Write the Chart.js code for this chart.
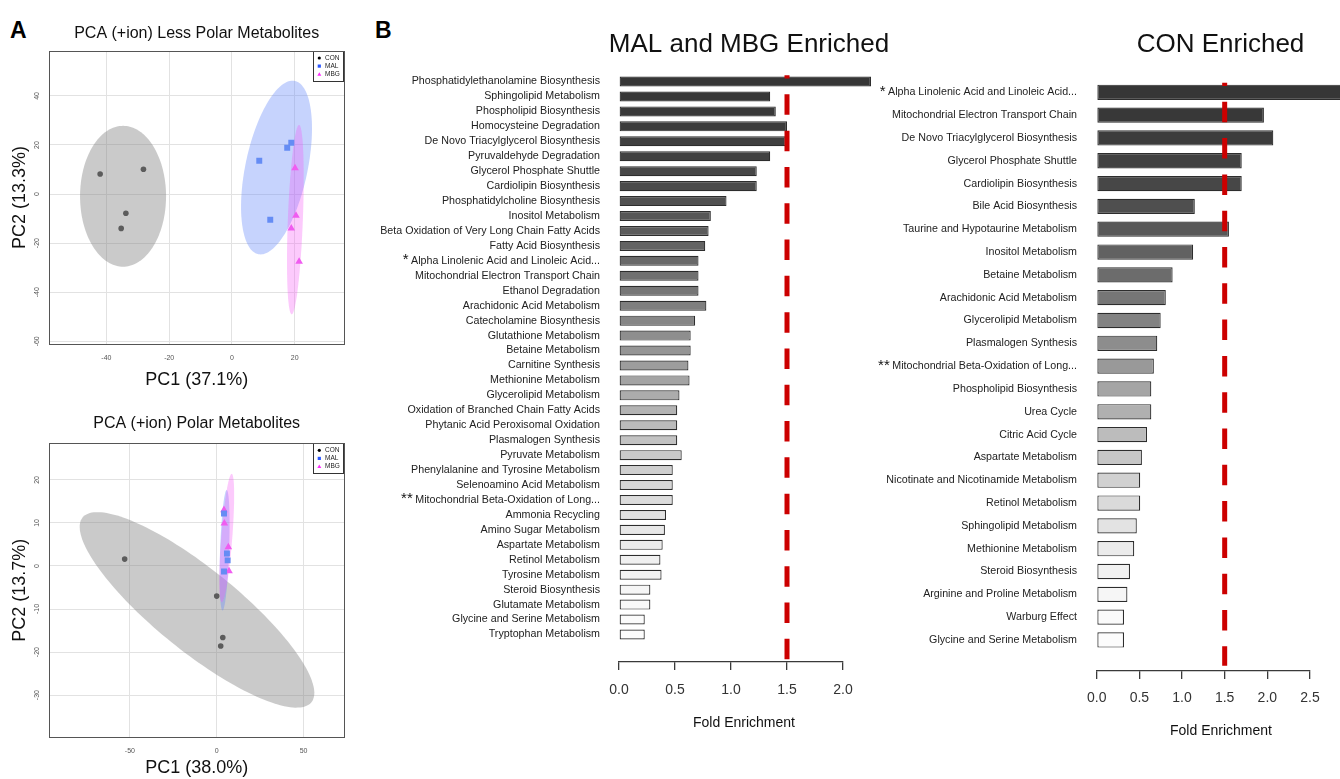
<!DOCTYPE html>
<html>
<head>
<meta charset="utf-8">
<title>PCA and pathway enrichment</title>
<script src="https://cdn.jsdelivr.net/npm/chart.js@4.4.1/dist/chart.umd.min.js"></script>
<style>
  html, body { margin: 0; padding: 0; background: #fff; }
  body { position: relative; width: 1340px; height: 779px; overflow: hidden; font-family: "Liberation Sans", Arial, sans-serif; }
  canvas { position: absolute; }
  .tag { position: absolute; font-size: 23px; line-height: 23px; font-weight: bold; color: #000; }
</style>
</head>
<body>
<div class="tag" style="left:10px; top:19px;">A</div>
<div class="tag" style="left:375px; top:19px;">B</div>
<canvas id="pcaLess" width="360" height="372" style="left:0; top:20px;"></canvas>
<canvas id="pcaPolar" width="360" height="379" style="left:0; top:400px;"></canvas>
<canvas id="malChart" width="530" height="779" style="left:380px; top:0;"></canvas>
<canvas id="conChart" width="470" height="779" style="left:870px; top:0;"></canvas>
<script>
const FONT = '"Liberation Sans", Arial, Helvetica, sans-serif';
Chart.defaults.font.family = FONT;
Chart.defaults.color = '#222';
const LABEL_SIZE = 10.7;

// ---- PCA (+ion) Less Polar Metabolites ----
const lessConPC1 = [-42.0, -28.2, -33.8, -35.3];
const lessConPC2 = [8.2, 10.1, -7.8, -14.0];
const lessMalPC1 = [8.7, 17.6, 18.9, 12.2];
const lessMalPC2 = [13.6, 18.9, 20.9, -10.5];
const lessMbgPC1 = [20.1, 20.4, 18.9, 21.4];
const lessMbgPC2 = [10.6, -8.8, -14.0, -27.5];
// ellipse = centre (PC1, PC2), then two conjugate semi-axes (PC1, PC2)
const lessConEllipse = [-34.7, -0.9, 0, 28.7, 13.7, 0];
const lessMalEllipse = [14.2, 10.8, 5.83, 35.3, 9.68, -2.63];
const lessMbgEllipse = [20.2, -10.4, 1.18, 38.6, 2.39, -0.12];
const lessRangePC1 = [-58.2, 35.7];
const lessRangePC2 = [-61.1, 58.3];
const lessTicksPC1 = [-40, -20, 0, 20];
const lessTicksPC2 = [-60, -40, -20, 0, 20, 40];

// ---- PCA (+ion) Polar Metabolites ----
const polarConPC1 = [-53.0, 0.0, 3.5, 2.3];
const polarConPC2 = [1.6, -7.0, -16.6, -18.6];
const polarMalPC1 = [4.2, 5.9, 6.3, 4.2];
const polarMalPC2 = [12.2, 2.9, 1.3, -1.3];
const polarMbgPC1 = [4.2, 4.4, 6.7, 7.1];
const polarMbgPC2 = [13.0, 9.9, 4.4, -1.2];
const polarConEllipse = [-11.35, -10.2, 65.9, -21.45, -14.86, -7.46];
const polarMalEllipse = [4.55, 3.66, 1.21, 14.0, 2.6, -0.04];
const polarMbgEllipse = [5.76, 6.5, 2.88, 14.9, 3.17, -0.1];
const polarRangePC1 = [-96.4, 73.3];
const polarRangePC2 = [-39.8, 28.5];
const polarTicksPC1 = [-50, 0, 50];
const polarTicksPC2 = [-30, -20, -10, 0, 10, 20];

// ---- Pathway enrichment ----
const cutoff = 1.5;

const malNames = [
  'Phosphatidylethanolamine Biosynthesis',
  'Sphingolipid Metabolism',
  'Phospholipid Biosynthesis',
  'Homocysteine Degradation',
  'De Novo Triacylglycerol Biosynthesis',
  'Pyruvaldehyde Degradation',
  'Glycerol Phosphate Shuttle',
  'Cardiolipin Biosynthesis',
  'Phosphatidylcholine Biosynthesis',
  'Inositol Metabolism',
  'Beta Oxidation of Very Long Chain Fatty Acids',
  'Fatty Acid Biosynthesis',
  '*Alpha Linolenic Acid and Linoleic Acid...',
  'Mitochondrial Electron Transport Chain',
  'Ethanol Degradation',
  'Arachidonic Acid Metabolism',
  'Catecholamine Biosynthesis',
  'Glutathione Metabolism',
  'Betaine Metabolism',
  'Carnitine Synthesis',
  'Methionine Metabolism',
  'Glycerolipid Metabolism',
  'Oxidation of Branched Chain Fatty Acids',
  'Phytanic Acid Peroxisomal Oxidation',
  'Plasmalogen Synthesis',
  'Pyruvate Metabolism',
  'Phenylalanine and Tyrosine Metabolism',
  'Selenoamino Acid Metabolism',
  '** Mitochondrial Beta-Oxidation of Long...',
  'Ammonia Recycling',
  'Amino Sugar Metabolism',
  'Aspartate Metabolism',
  'Retinol Metabolism',
  'Tyrosine Metabolism',
  'Steroid Biosynthesis',
  'Glutamate Metabolism',
  'Glycine and Serine Metabolism',
  'Tryptophan Metabolism'
];
const malFold = [2.25, 1.35, 1.40, 1.50, 1.49, 1.35, 1.23, 1.23, 0.96, 0.82,
  0.80, 0.77, 0.71, 0.71, 0.71, 0.78, 0.68, 0.64, 0.64, 0.62,
  0.63, 0.54, 0.52, 0.52, 0.52, 0.56, 0.48, 0.48, 0.48, 0.42,
  0.41, 0.39, 0.37, 0.38, 0.28, 0.28, 0.23, 0.23];
const malTicks = [0, 0.5, 1.0, 1.5, 2.0];

const conNames = [
  '* Alpha Linolenic Acid and Linoleic Acid...',
  'Mitochondrial Electron Transport Chain',
  'De Novo Triacylglycerol Biosynthesis',
  'Glycerol Phosphate Shuttle',
  'Cardiolipin Biosynthesis',
  'Bile Acid Biosynthesis',
  'Taurine and Hypotaurine Metabolism',
  'Inositol Metabolism',
  'Betaine Metabolism',
  'Arachidonic Acid Metabolism',
  'Glycerolipid Metabolism',
  'Plasmalogen Synthesis',
  '** Mitochondrial Beta-Oxidation of Long...',
  'Phospholipid Biosynthesis',
  'Urea Cycle',
  'Citric Acid Cycle',
  'Aspartate Metabolism',
  'Nicotinate and Nicotinamide Metabolism',
  'Retinol Metabolism',
  'Sphingolipid Metabolism',
  'Methionine Metabolism',
  'Steroid Biosynthesis',
  'Arginine and Proline Metabolism',
  'Warburg Effect',
  'Glycine and Serine Metabolism'
];
const conFold = [3.0, 1.96, 2.07, 1.70, 1.70, 1.15, 1.55, 1.13, 0.89, 0.81,
  0.75, 0.71, 0.67, 0.64, 0.64, 0.59, 0.53, 0.51, 0.51, 0.47,
  0.44, 0.39, 0.36, 0.32, 0.32];
const conTicks = [0, 0.5, 1.0, 1.5, 2.0, 2.5];

// ---------- helpers & plugins ----------
function pts(xs, ys) {
  return xs.map((x, i) => ({ x: x, y: ys[i] }));
}

// dark-to-white fill down the ranked list
function shade(i, n) {
  const t = i / (n - 1);
  const s = 0.85 * t * t * (3 - 2 * t) + 0.15 * t;
  const g = Math.round(54 + 198 * s);
  return 'rgb(' + g + ',' + g + ',' + g + ')';
}

const ellipsePlugin = {
  id: 'ellipses',
  beforeDatasetsDraw(chart, args, opts) {
    const { ctx, chartArea: a, scales: { x, y } } = chart;
    ctx.save();
    ctx.beginPath();
    ctx.rect(a.left, a.top, a.right - a.left, a.bottom - a.top);
    ctx.clip();
    opts.items.forEach(e => {
      const [cx, cy, ux, uy, vx, vy] = e.shape;
      ctx.beginPath();
      for (let k = 0; k <= 160; k++) {
        const t = (k / 160) * 2 * Math.PI;
        const px = x.getPixelForValue(cx + ux * Math.cos(t) + vx * Math.sin(t));
        const py = y.getPixelForValue(cy + uy * Math.cos(t) + vy * Math.sin(t));
        if (k === 0) ctx.moveTo(px, py); else ctx.lineTo(px, py);
      }
      ctx.closePath();
      ctx.fillStyle = e.fill;
      ctx.fill();
    });
    ctx.restore();
  }
};

const keyPlugin = {
  id: 'groupKey',
  afterDatasetsDraw(chart, args, opts) {
    const { ctx, chartArea: a } = chart;
    const w = 31, h = 31, x0 = a.right - w, y0 = a.top;
    ctx.save();
    ctx.fillStyle = '#fff';
    ctx.fillRect(x0, y0, w, h);
    ctx.strokeStyle = '#333';
    ctx.lineWidth = 1;
    ctx.strokeRect(Math.round(x0) + 0.5, Math.round(y0) + 0.5, w - 1, h - 1);
    ctx.font = '6.5px ' + FONT;
    ctx.textBaseline = 'middle';
    ctx.textAlign = 'left';
    chart.data.datasets.forEach((ds, i) => {
      const cy = y0 + 7 + i * 8.1, cx = x0 + 6.3;
      ctx.fillStyle = opts.colors[i];
      ctx.beginPath();
      if (ds.pointStyle === 'circle') ctx.arc(cx, cy, 1.6, 0, Math.PI * 2);
      else if (ds.pointStyle === 'rect') ctx.rect(cx - 1.6, cy - 1.6, 3.2, 3.2);
      else { ctx.moveTo(cx, cy - 2); ctx.lineTo(cx + 2, cy + 1.5); ctx.lineTo(cx - 2, cy + 1.5); ctx.closePath(); }
      ctx.fill();
      ctx.fillStyle = '#222';
      ctx.fillText(ds.label, x0 + 12, cy);
    });
    ctx.restore();
  }
};

const framePlugin = {
  id: 'frame',
  afterDraw(chart) {
    const { ctx, chartArea: a } = chart;
    ctx.save();
    ctx.strokeStyle = '#555';
    ctx.lineWidth = 1;
    ctx.strokeRect(Math.round(a.left) + 0.5, Math.round(a.top) + 0.5,
      Math.round(a.right - a.left), Math.round(a.bottom - a.top));
    ctx.restore();
  }
};

const cutoffPlugin = {
  id: 'cutoff',
  afterDatasetsDraw(chart, args, o) {
    const { ctx, scales: { x, y } } = chart;
    const px = x.getPixelForValue(o.value);
    ctx.save();
    ctx.strokeStyle = '#cc0000';
    ctx.lineWidth = 5;
    ctx.setLineDash([20.5, 15.8]);
    ctx.lineDashOffset = 17.2;
    ctx.beginPath();
    ctx.moveTo(px, y.getPixelForValue(o.from));
    ctx.lineTo(px, y.getPixelForValue(o.to));
    ctx.stroke();
    ctx.restore();
  }
};

const starPlugin = {
  id: 'stars',
  afterDraw(chart, args, o) {
    const { ctx, chartArea: a, scales: { y } } = chart;
    const pad = y.options.ticks.padding;
    ctx.save();
    ctx.fillStyle = '#111';
    ctx.textAlign = 'right';
    ctx.textBaseline = 'alphabetic';
    o.names.forEach((name, i) => {
      const m = name.match(/^(\*+)\s*/);
      if (!m) return;
      ctx.font = LABEL_SIZE + 'px ' + FONT;
      const w = ctx.measureText(name.slice(m[0].length)).width;
      ctx.font = '15px ' + FONT;
      ctx.fillText(m[1], a.left - pad - w - 2.5, y.getPixelForValue(i) + 3.5);
    });
    ctx.restore();
  }
};

const textPlugin = {
  id: 'panelText',
  afterDraw(chart, args, o) {
    const ctx = chart.ctx;
    ctx.save();
    ctx.fillStyle = '#111';
    ctx.textAlign = 'center';
    o.items.forEach(t => {
      ctx.font = t.size + 'px ' + FONT;
      ctx.textBaseline = t.baseline;
      ctx.fillText(t.text, t.x, t.y);
    });
    ctx.restore();
  }
};

function pcaChart(id, o) {
  return new Chart(document.getElementById(id), {
    type: 'scatter',
    data: {
      datasets: [
        { label: 'CON', data: pts(o.con[0], o.con[1]), pointStyle: 'circle', pointRadius: 2.8, backgroundColor: '#5c5c5c', borderWidth: 0 },
        { label: 'MAL', data: pts(o.mal[0], o.mal[1]), pointStyle: 'rect', pointRadius: 4.2, backgroundColor: '#658cf4', borderWidth: 0 },
        { label: 'MBG', data: pts(o.mbg[0], o.mbg[1]), pointStyle: 'triangle', pointRadius: 4.4, backgroundColor: '#f05cf0', borderWidth: 0 }
      ]
    },
    options: {
      responsive: false,
      animation: false,
      events: [],
      layout: { padding: { left: 0, right: 16, top: 0, bottom: 0 } },
      plugins: {
        legend: { display: false },
        tooltip: { enabled: false },
        title: { display: true, text: o.title, fullSize: false, color: '#111', font: { size: 16, weight: 'normal' }, padding: o.titlePad },
        ellipses: {
          items: [
            { shape: o.ellipses[0], fill: 'rgba(128,128,128,0.42)' },
            { shape: o.ellipses[1], fill: 'rgba(105,140,250,0.38)' },
            { shape: o.ellipses[2], fill: 'rgba(245,80,245,0.30)' }
          ]
        },
        groupKey: { colors: ['#000', '#2b57ff', '#ff2bff'] }
      },
      scales: {
        x: {
          type: 'linear',
          min: o.xRange[0], max: o.xRange[1],
          afterBuildTicks: s => { s.ticks = o.xTicks.map(v => ({ value: v })); },
          afterFit: s => { s.height = o.xHeight; },
          ticks: { font: { size: 7 }, color: '#555', padding: 9.5 },
          grid: { color: '#e2e2e2', drawTicks: false },
          border: { display: false },
          title: { display: true, text: o.xTitle, color: '#111', font: { size: 18 }, padding: { top: 0, bottom: o.xTitlePad } }
        },
        y: {
          type: 'linear',
          min: o.yRange[0], max: o.yRange[1],
          afterBuildTicks: s => { s.ticks = o.yTicks.map(v => ({ value: v })); },
          afterFit: s => { s.width = 49.3; },
          ticks: { font: { size: 7 }, color: '#555', padding: 7, minRotation: 90, maxRotation: 90, crossAlign: 'center' },
          grid: { color: '#e2e2e2', drawTicks: false },
          border: { display: false },
          title: { display: true, text: o.yTitle, color: '#111', font: { size: 18 }, padding: { top: 9.2, bottom: 0 } }
        }
      }
    },
    plugins: [ellipsePlugin, keyPlugin, framePlugin]
  });
}

function pathwayChart(id, o) {
  const n = o.names.length;
  return new Chart(document.getElementById(id), {
    type: 'bar',
    data: {
      datasets: [{
        data: o.values.map((v, i) => ({ x: v, y: i })),
        backgroundColor: o.values.map((v, i) => shade(i, n)),
        borderColor: '#2d2d2d',
        borderWidth: 1.2,
        borderSkipped: false,
        barPercentage: 0.67,
        categoryPercentage: 1,
        clip: false
      }]
    },
    options: {
      indexAxis: 'y',
      responsive: false,
      animation: false,
      events: [],
      layout: { padding: { top: o.top, right: o.right, left: 0, bottom: 0 } },
      plugins: {
        legend: { display: false },
        tooltip: { enabled: false },
        cutoff: { value: cutoff, from: -0.42, to: o.lineEnd },
        stars: { names: o.names },
        panelText: { items: o.texts }
      },
      scales: {
        x: {
          type: 'linear',
          min: 0, max: o.ticks[o.ticks.length - 1],
          afterBuildTicks: s => { s.ticks = o.ticks.map(v => ({ value: v })); },
          afterFit: s => { s.height = o.xHeight; },
          ticks: { callback: v => v.toFixed(1), font: { size: 14 }, color: '#333', padding: o.tickPad },
          grid: { drawOnChartArea: false, drawTicks: true, tickLength: 8, color: '#3a3a3a', lineWidth: 1.3 },
          border: { display: true, color: '#3a3a3a', width: 1.3 }
        },
        y: {
          type: 'linear',
          reverse: true,
          offset: false,
          min: -0.5, max: o.yMax,
          afterBuildTicks: s => { s.ticks = o.names.map((_, i) => ({ value: i })); },
          afterFit: s => { s.width = o.yWidth; },
          ticks: { autoSkip: false, callback: v => o.names[v].replace(/^\*+\s*/, ''), font: { size: LABEL_SIZE }, color: '#222', padding: o.labelPad },
          grid: { display: false, drawTicks: false, offset: false },
          border: { display: false }
        }
      }
    },
    plugins: [cutoffPlugin, starPlugin, textPlugin]
  });
}

pcaChart('pcaLess', {
  title: 'PCA (+ion) Less Polar Metabolites',
  titlePad: { top: 4, bottom: 7.8 },
  con: [lessConPC1, lessConPC2], mal: [lessMalPC1, lessMalPC2], mbg: [lessMbgPC1, lessMbgPC2],
  ellipses: [lessConEllipse, lessMalEllipse, lessMbgEllipse],
  xRange: lessRangePC1, yRange: lessRangePC2, xTicks: lessTicksPC1, yTicks: lessTicksPC2,
  xTitle: 'PC1 (37.1%)', yTitle: 'PC2 (13.3%)', xHeight: 48, xTitlePad: 1.2
});

pcaChart('pcaPolar', {
  title: 'PCA (+ion) Polar Metabolites',
  titlePad: { top: 13.9, bottom: 10.2 },
  con: [polarConPC1, polarConPC2], mal: [polarMalPC1, polarMalPC2], mbg: [polarMbgPC1, polarMbgPC2],
  ellipses: [polarConEllipse, polarMalEllipse, polarMbgEllipse],
  xRange: polarRangePC1, yRange: polarRangePC2, xTicks: polarTicksPC1, yTicks: polarTicksPC2,
  xTitle: 'PC1 (38.0%)', yTitle: 'PC2 (13.7%)', xHeight: 41.7, xTitlePad: 0
});

pathwayChart('malChart', {
  names: malNames, values: malFold, ticks: malTicks,
  top: 74.03, right: 67, yMax: 38.84, yWidth: 239, xHeight: 117,
  tickPad: 11.6, labelPad: 19, lineEnd: 38.65,
  texts: [
    { text: 'MAL and MBG Enriched', x: 369, y: 52, size: 26, baseline: 'alphabetic' },
    { text: 'Fold Enrichment', x: 364, y: 722.7, size: 14, baseline: 'middle' }
  ]
});

pathwayChart('conChart', {
  names: conNames, values: conFold, ticks: conTicks,
  top: 80.89, right: 30, yMax: 25.36, yWidth: 226.7, xHeight: 108,
  tickPad: 10.9, labelPad: 19.7, lineEnd: 25.13,
  texts: [
    { text: 'CON Enriched', x: 350.5, y: 52, size: 26, baseline: 'alphabetic' },
    { text: 'Fold Enrichment', x: 351, y: 730.7, size: 14, baseline: 'middle' }
  ]
});
</script>
</body>
</html>
